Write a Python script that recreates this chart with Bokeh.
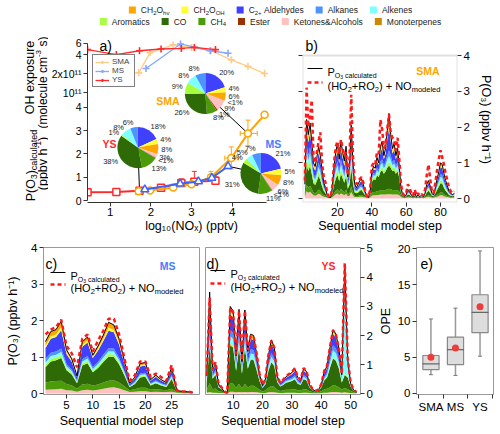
import math
import numpy as np
from bokeh.plotting import figure
from bokeh.models import (Range1d, LinearAxis, LogScale, FixedTicker, Label, BoxAnnotation,
                          Legend, LegendItem, ColumnDataSource)
from bokeh.layouts import column, row
from bokeh.embed import file_html
from bokeh.resources import INLINE
from bokeh.core.properties import value
from bokeh.transform import stack

# ---------------- data ----------------
SPECIES_KEYS = ["hv", "oh", "c2", "alka", "alke", "aro", "co", "ch4", "ester", "ket", "mono"]
SPECIES_NAMES = ["CH2O_hv", "CH2O_OH", "C2+ Aldehydes", "Alkanes", "Alkenes", "Aromatics",
                 "CO", "CH4", "Ester", "Ketones&Alcohols", "Monoterpenes"]
STACK_KEYS = ["ket", "ch4", "co", "aro", "alke", "alka", "c2", "oh", "hv"]

# panel a : P(O3) and OH exposure vs log10(NOx)
SMA_NOX = [1.70, 1.98, 2.55, 3.00, 3.48, 3.98, 4.39, 4.80]
SMA_PO3 = [0.40, 0.43, 0.56, 0.70, 1.00, 1.82, 2.88, 3.68]
SMA_PO3_LO = [0.38, 0.40, 0.50, 0.62, 0.85, 1.35, 2.35, 3.68]
SMA_PO3_HI = [0.42, 0.46, 0.62, 0.80, 1.25, 2.30, 3.45, 3.68]
SMA_NOX_LO = [1.70, 1.98, 2.55, 3.00, 3.40, 3.82, 4.20, 4.80]
SMA_NOX_HI = [1.70, 1.98, 2.55, 3.00, 3.56, 4.15, 4.62, 4.80]
SMA_OH = [2.05e11, 4.3e11, 5.7e11, 5.2e11, 4.6e11, 3.3e11, 2.6e11, 2.0e11]

MS_NOX = [1.85, 2.72, 3.17, 3.50, 3.90]
MS_PO3 = [0.47, 0.72, 0.82, 0.97, 1.47]
MS_OH_NOX = [1.88, 2.73, 3.46, 3.90]
MS_OH = [2.4e11, 5.9e11, 4.6e11, 4.2e11]

YS_NOX = [0.44, 1.15, 1.72, 2.25, 2.75, 3.07, 3.59]
YS_PO3 = [0.35, 0.36, 0.42, 0.55, 0.75, 0.80, 0.85]
YS_PO3_LO = [0.33, 0.34, 0.38, 0.48, 0.62, 0.62, 0.72]
YS_PO3_HI = [0.38, 0.38, 0.45, 0.62, 0.93, 1.25, 1.02]
YS_OH = [4.8e11, 4.0e11, 4.6e11, 4.9e11, 5.0e11, 5.2e11, 4.8e11]

PO3_TICKS = [0, 1, 2, 3, 4]
OH_TICKS = [1e11, 2e11, 4e11, 6e11]
OH_TICK_LABELS = ["10\u00b9\u00b9", "2x10\u00b9\u00b9", "4", "6"]

PIE_KEYS = ["c2", "oh", "hv", "mono", "ket", "ester", "ch4", "co", "aro", "alke", "alka"]
SMA_PIE = [20, 4, 6, 0.5, 9, 1, 8, 26, 9, 8, 8]
SMA_PIE_LAB = ["20%", "4%", "6%", "<1%", "9%", "1%", "8%", "26%", "9%", "8%", "8%"]
MS_PIE = [21, 5, 8, 0, 6, 0.5, 11, 31, 4, 5, 7]
MS_PIE_LAB = ["21%", "5%", "8%", "", "6%", "<1%", "11%", "31%", "4%", "5%", "7%"]
YS_PIE = [18, 4, 8, 0, 3, 0.5, 13, 38, 1, 8, 6]
YS_PIE_LAB = ["18%", "4%", "8%", "", "3%", "<1%", "13%", "38%", "1%", "8%", "6%"]

# panel b : SMA sequential steps
B_STEP = list(range(1, 89))
B_KET = [.04,.20,.16,.19,.14,.09,.08,.10,.13,.11, .07,.05,.04,.02,.01,.01,.04,.08,.12,.14,
         .10,.14,.12,.09,.13,.06,.08,.18,.09,.04, .04,.04,.05,.05,.04,.03,.02,.01,.03,.08,
         .09,.09,.10,.10,.11,.11,.11,.11,.12,.12, .12,.11,.11,.11,.11,.09,.04,.02,.01,.02,
         .03,.03,.02,.01,.02,.01,.02,.01,.02,.01, .02,.04,.05,.04,.02,.02,.04,.05,.07,.09,
         .09,.06,.05,.04,.03,.02,.02,.02]
B_CH4 = [.03,.18,.14,.17,.13,.08,.07,.09,.12,.10, .06,.04,.03,.01,.01,.01,.03,.07,.10,.12,
         .09,.13,.10,.08,.12,.05,.07,.16,.08,.03, .03,.03,.04,.05,.03,.02,.01,.01,.02,.08,
         .09,.09,.10,.10,.12,.13,.12,.13,.14,.15, .14,.13,.13,.12,.13,.10,.03,.01,.01,.01,
         .02,.02,.01,.01,.02,.01,.01,.01,.01,.01, .02,.03,.04,.03,.02,.01,.03,.05,.06,.08,
         .08,.06,.04,.03,.02,.02,.01,.02]
B_CO = [.10,.57,.47,.55,.42,.26,.23,.30,.38,.31, .21,.12,.08,.03,.01,.01,.08,.23,.34,.40,
        .29,.42,.34,.27,.38,.16,.23,.53,.26,.10, .08,.10,.13,.14,.10,.05,.02,.01,.05,.30,
        .36,.34,.44,.40,.52,.55,.46,.52,.60,.65, .60,.52,.55,.46,.52,.38,.08,.03,.02,.03,
        .07,.05,.03,.02,.04,.02,.03,.02,.03,.02, .04,.10,.13,.09,.04,.03,.08,.14,.20,.26,
        .25,.18,.13,.09,.05,.04,.03,.04]
B_ARO = [.04,.20,.16,.19,.14,.09,.08,.10,.13,.11, .07,.04,.03,.01,0,0,.03,.08,.12,.14,
         .10,.14,.12,.09,.13,.05,.08,.18,.09,.04, .03,.04,.05,.05,.04,.02,.01,0,.02,.05,
         .06,.05,.07,.06,.08,.09,.07,.08,.10,.11, .10,.08,.09,.07,.08,.05,.03,.01,0,.01,
         .02,.02,.01,0,.01,0,.01,0,.01,0, .01,.04,.05,.03,.01,.01,.03,.05,.07,.09,
         .08,.06,.05,.03,.02,.01,.01,.01]
B_ALKE = [.03,.18,.14,.17,.13,.08,.07,.09,.12,.10, .06,.04,.02,.01,0,0,.02,.07,.10,.12,
          .09,.13,.10,.08,.12,.05,.07,.16,.08,.03, .02,.03,.04,.04,.03,.02,0,0,.02,.05,
          .06,.06,.08,.07,.10,.11,.08,.09,.13,.16, .12,.09,.10,.08,.09,.06,.02,.01,0,.01,
          .02,.02,.01,0,.01,0,.01,0,.01,0, .01,.03,.04,.03,.01,.01,.02,.04,.06,.08,
          .08,.06,.04,.03,.02,.01,.01,.01]
B_ALKA = [.03,.18,.14,.17,.13,.08,.07,.09,.12,.10, .06,.04,.02,.01,0,0,.02,.07,.10,.12,
          .09,.13,.10,.08,.12,.05,.07,.16,.08,.03, .02,.03,.04,.04,.03,.02,0,0,.02,.05,
          .06,.05,.08,.07,.10,.11,.08,.09,.13,.16, .12,.09,.10,.08,.09,.06,.02,.01,0,.01,
          .02,.02,.01,0,.01,0,.01,0,.01,0, .01,.03,.04,.03,.01,.01,.02,.04,.06,.08,
          .08,.06,.04,.03,.02,.01,.01,.01]
B_C2 = [.08,.44,.36,.42,.32,.20,.18,.23,.29,.24, .16,.09,.06,.01,.01,0,.06,.18,.26,.31,
        .22,.32,.26,.22,.29,.12,.18,.41,.20,.08, .06,.08,.10,.11,.08,.03,.01,0,.03,.09,
        .11,.11,.18,.14,.26,.31,.18,.24,.43,.63, .40,.24,.29,.18,.24,.10,.06,.01,.01,.01,
        .05,.03,.01,.01,.03,.01,.01,.01,.01,.01, .03,.08,.10,.07,.03,.01,.06,.11,.15,.20,
        .19,.14,.10,.07,.03,.03,.01,.03]
B_OH = [.02,.11,.09,.10,.08,.05,.05,.06,.07,.06, .04,.01,.01,0,0,0,.01,.05,.07,.08,
        .05,.08,.07,.06,.07,.03,.05,.10,.05,.02, .01,.02,.02,.03,.02,.01,0,0,.01,.02,
        .03,.03,.04,.03,.06,.07,.04,.06,.10,.14, .08,.06,.07,.04,.06,.03,.01,0,0,0,
        .01,.01,0,0,.01,0,0,0,0,0, .01,.02,.02,.01,.01,0,.01,.03,.04,.05,
        .05,.04,.02,.01,.01,.01,0,.01]
B_HV = [.03,.15,.13,.15,.11,.07,.07,.09,.10,.08, .06,.02,.01,0,0,0,.01,.07,.09,.12,
        .07,.11,.09,.08,.10,.03,.07,.17,.07,.03, .01,.03,.03,.04,.03,0,0,0,0,.03,
        .04,.03,.06,.03,.10,.12,.06,.08,.15,.26, .12,.08,.11,.06,.08,.03,.01,0,0,0,
        .01,0,0,0,0,0,0,0,0,0, 0,.03,.03,.02,0,0,.01,.04,.04,.07,
        .05,.04,.03,.02,0,0,0,0]
B_RED = [0.50,3.10,2.00,2.30,2.75,1.20,1.00,1.30,1.60,1.85, 1.00,0.60,0.45,0.15,0.05,0.04,0.35,1.00,1.45,1.60,
         1.25,1.65,1.40,1.20,1.30,0.65,1.10,2.90,1.20,0.45, 0.40,0.50,0.55,0.60,0.45,0.25,0.08,0.04,0.25,0.90,
         1.00,0.95,1.30,1.25,2.20,1.95,1.40,1.50,1.95,2.35, 1.85,1.70,1.65,1.35,1.70,1.10,0.40,0.15,0.08,0.15,
         0.40,0.30,0.15,0.08,0.25,0.08,0.15,0.08,0.12,0.08, 0.25,0.65,0.95,0.55,0.20,0.15,0.45,0.80,1.10,1.35,
         1.15,0.95,0.70,0.50,0.30,0.20,0.15,0.20]

# panel c : MS sequential steps
C_STEP = list(range(1, 30))
C_KET = [.10,.11,.12,.13,.09,.08,.05,.09,.10,.08, .10,.13,.16,.17,.14,.09,.04,.05,.06,.06, .04,.05,.04,.04,.05,.02,.01,.01,.01]
C_CH4 = [.20,.22,.22,.22,.17,.14,.08,.16,.17,.14, .15,.17,.19,.19,.16,.11,.05,.07,.10,.10, .06,.07,.06,.05,.08,.02,.02,.01,.01]
C_CO = [.42,.55,.57,.62,.38,.30,.15,.52,.56,.36, .45,.56,.66,.64,.50,.30,.08,.14,.28,.30, .12,.16,.12,.09,.27,.02,.02,.02,.01]
C_ARO = [.06,.07,.07,.08,.05,.04,.02,.05,.06,.04, .05,.06,.07,.07,.06,.04,.01,.02,.03,.03, .02,.02,.02,.01,.03,0,0,0,0]
C_ALKE = [.07,.08,.08,.09,.06,.05,.03,.06,.07,.05, .06,.07,.08,.08,.06,.04,.01,.02,.04,.04, .02,.03,.02,.02,.04,0,0,0,0]
C_ALKA = [.10,.09,.09,.09,.06,.05,.03,.06,.07,.05, .06,.07,.08,.08,.06,.04,.02,.03,.04,.04, .02,.03,.02,.02,.04,.01,0,0,0]
C_C2 = [.30,.38,.40,.50,.27,.21,.09,.34,.37,.25, .31,.38,.48,.45,.36,.20,.05,.09,.19,.20, .07,.10,.07,.05,.15,.01,.01,.01,0]
C_OH = [.05,.07,.07,.09,.05,.04,.01,.05,.06,.03, .05,.06,.08,.07,.06,.03,.01,.01,.03,.03, .01,.02,.01,.01,.02,0,0,0,0]
C_HV = [.12,.13,.13,.16,.07,.04,.02,.09,.09,.05, .07,.10,.15,.13,.10,.05,.01,.02,.05,.05, .02,.02,.02,.01,.04,0,0,0,0]
C_RED = [1.62,1.75,1.82,2.02,1.30,1.10,0.72,1.50,1.62,1.15, 1.45,1.72,2.05,2.05,1.62,0.97,0.35,0.50,0.88,0.88,
         0.45,0.55,0.45,0.35,0.78,0.08,0.06,0.05,0.03]

# panel d : YS sequential steps
D_STEP = list(range(1, 53))
D_KET = [.03,.05,.03,.03,.02,.02,.01,.01,.06,.06, .04,.05,.04,.05,.04,.05,.05,.04,.03,.02,
         .02,.04,.05,.04,.03,.02,.02,.03,.03,.03, .03,.02,.02,.03,.03,.02,.01,.01,.01,.02,
         .03,.03,.04,.05,.05,.04,.03,.04,.03,.02, .01,.01]
D_CH4 = [.10,.30,.12,.14,.06,.04,.02,.01,.30,.28, .16,.28,.14,.28,.17,.22,.22,.16,.10,.05,
         .08,.16,.21,.19,.10,.07,.08,.10,.10,.11, .12,.09,.08,.12,.11,.06,.04,.02,.03,.06,
         .11,.13,.18,.24,.22,.18,.10,.15,.12,.07, .03,.01]
D_CO = [.27,1.30,.36,.48,.14,.09,.03,0,1.30,1.25, .58,1.25,.50,1.24,.64,.90,.88,.60,.29,.12,
        .22,.58,.82,.72,.27,.15,.19,.24,.27,.29, .34,.23,.19,.35,.31,.13,.06,.03,.05,.13,
        .31,.40,.68,.92,.86,.64,.25,.45,.40,.15, .05,.02]
D_ARO = [.01,.06,.01,.02,0,0,0,0,.06,.06, .03,.06,.02,.06,.03,.04,.04,.03,.01,0,
         .01,.03,.04,.03,.01,.01,.01,.01,.01,.01, .02,.01,.01,.02,.01,0,0,0,0,0,
         .01,.02,.03,.04,.04,.03,.01,.05,.02,.01, 0,0]
D_ALKE = [.04,.30,.06,.08,.03,.02,0,0,.25,.23, .10,.25,.09,.25,.12,.17,.16,.11,.05,.02,
          .04,.10,.15,.13,.04,.02,.03,.04,.05,.05, .06,.04,.03,.06,.05,.02,.01,.01,.01,.02,
          .05,.08,.16,.24,.22,.18,.09,3.10,.40,.04, .01,0]
D_ALKA = [.04,.35,.05,.07,.02,.01,0,0,.22,.21, .09,.22,.07,.22,.10,.15,.14,.09,.04,.02,
          .03,.09,.13,.11,.04,.02,.03,.04,.04,.05, .06,.04,.03,.06,.05,.02,.01,0,.01,.02,
          .05,.07,.12,.17,.16,.12,.05,.25,.08,.02, .01,0]
D_C2 = [.08,.80,.12,.16,.04,.02,0,0,.55,.52, .22,.52,.18,.52,.25,.36,.35,.23,.09,.04,
        .07,.22,.32,.27,.08,.04,.06,.08,.10,.12, .15,.08,.06,.15,.13,.03,.02,.01,.01,.03,
        .13,.16,.28,.40,.37,.27,.09,.30,.11,.03, .01,0]
D_OH = [.01,.12,.02,.03,.01,0,0,0,.10,.09, .03,.10,.02,.10,.04,.06,.06,.04,.02,0,
        .01,.03,.05,.04,.01,.01,.01,.02,.02,.02, .03,.02,.01,.03,.02,.01,0,0,0,.01,
        .02,.02,.04,.05,.05,.03,.01,.04,.01,0, 0,0]
D_HV = [.02,.22,.03,.04,.01,0,0,0,.16,.15, .05,.17,.04,.16,.06,.10,.10,.05,.02,.01,
        .02,.05,.08,.07,.02,.01,.02,.02,.03,.04, .04,.02,.02,.05,.04,.01,0,0,0,.01,
        .04,.04,.07,.09,.08,.06,.02,.07,.03,.01, 0,0]
D_RED = [0.62,3.30,0.82,1.08,0.35,0.22,0.07,0.02,2.95,2.80, 1.35,2.85,1.15,2.85,1.50,2.00,1.95,1.38,0.68,0.30,
         0.52,1.32,1.82,1.58,0.62,0.37,0.47,0.60,0.67,0.74, 0.87,0.57,0.47,0.88,0.77,0.32,0.16,0.09,0.13,0.32,
         0.77,0.97,1.62,2.18,2.02,1.55,0.67,4.50,1.22,0.37, 0.13,0.05]

# panel e : OPE box plots
OPE_SITES = ["SMA", "MS", "YS"]
OPE_POS = [1, 2, 3]
OPE_LO = [2.6, 2.5, 5.15]
OPE_Q1 = [3.3, 4.0, 8.4]
OPE_MED = [4.1, 6.05, 11.2]
OPE_Q3 = [5.25, 7.8, 13.65]
OPE_HI = [10.3, 11.8, 19.7]
OPE_MEAN = [5.0, 6.3, 12.0]

# ---------------- styles ----------------
FONT = "Liberation Sans"
COL = {"hv": "#FFA500", "oh": "#FFFF33", "c2": "#4040FF", "alka": "#4D94FF", "alke": "#80FFFF",
       "aro": "#A8FF40", "co": "#2E6A05", "ch4": "#4C9C0A", "ester": "#993300", "ket": "#FFC0C0",
       "mono": "#CC8800"}
SMA_C, MS_C, YS_C = "#FFA500", "#3B63FF", "#FF2A2A"
SMA_C2, MS_C2 = "#FFCC88", "#86A8FF"
PO3_LABEL = "P(O\u2083) (ppbv h\u207b\u00b9)"

AW = {' ': .278, '%': .889, '&': .667, '(': .333, ')': .333, '+': .584, '-': .333, '<': .584, '.': .278,
      'A': .667, 'C': .722, 'E': .667, 'H': .722, 'K': .667, 'M': .833, 'N': .722, 'O': .778, 'P': .667,
      'R': .722, 'S': .667, 'Y': .667,
      'a': .556, 'b': .556, 'c': .5, 'd': .556, 'e': .556, 'g': .556, 'h': .556, 'i': .222, 'k': .5,
      'l': .222, 'm': .833, 'n': .556, 'o': .556, 'p': .556, 'q': .556, 'r': .333, 's': .5, 't': .278,
      'u': .556, 'v': .5, 'x': .5, 'y': .5}


def tw(s, size):
    return sum(AW.get(c, 0.556) for c in s) * size


def rich(p, x, y, parts, angle=0.0, units="screen", align="left", base="alphabetic", color="black"):
    total = sum(tw(t, s) for t, s, _ in parts)
    adv = {"left": 0.0, "center": -total / 2, "right": -total}[align]
    ux, uy = math.cos(angle), math.sin(angle)
    dx, dy = math.sin(angle), -math.cos(angle)
    for t, s, off in parts:
        lead = len(t) - len(t.lstrip(" "))
        if lead:
            adv += tw(" " * lead, s)
            t = t.lstrip(" ")
        p.add_layout(Label(x=x + adv * ux + off * dx, y=y + adv * uy + off * dy, x_units=units, y_units=units,
                           text=t, angle=angle, text_font=FONT, text_font_size=f"{s}px",
                           text_align="left", text_baseline=base, text_color=color))
        adv += tw(t, s)


def plain(p, x, y, text, size="14px", color="black", bold=False, align="left"):
    p.add_layout(Label(x=x, y=y, x_units="screen", y_units="screen", text=text, text_font=FONT,
                       text_font_size=size, text_font_style="bold" if bold else "normal",
                       text_color=color, text_align=align, text_baseline="alphabetic"))


def style(ax, size="11.5px", line="#333333", title=None, standoff=3):
    ax.major_label_text_font = FONT
    ax.major_label_text_font_size = size
    ax.major_label_text_color = "black"
    ax.major_tick_in = 0
    ax.major_tick_out = 4
    ax.major_tick_line_color = "#333333"
    ax.minor_tick_line_color = None
    ax.major_label_standoff = 2
    ax.axis_line_color = line
    if title is not None:
        ax.axis_label = title
        ax.axis_label_text_font = FONT
        ax.axis_label_text_font_size = "12.5px"
        ax.axis_label_text_font_style = "normal"
        ax.axis_label_text_color = "black"
        ax.axis_label_standoff = standoff


# frame geometry in page pixels (plots in one row share their frame top / bottom)
R2_TOP, R2_T, R2_B, R2_BOT = 28, 36, 202, 238     # row 2: figure top, frame top, frame bottom, figure bottom
GA = dict(fl=85, fb=R2_B, fw=210, fh=R2_B - R2_T, xr=(1 - 23 / 41, 1 + 187 / 41),
          yr=((200 - R2_B) / 23.3, (200 - R2_T) / 23.3))
OH_LOG = (11 - (R2_B - 92) / 63, 11 + (92 - R2_T) / 63)
GB = dict(fl=302, fb=R2_B, fw=155, fh=R2_B - R2_T, xr=(-0.38, 89.9),
          yr=((198 - R2_B) / 35.75, (198 - R2_T) / 35.75))
GC = dict(fl=43, fb=394, fw=156, fh=147, xr=(0.62, 30.3), yr=(-0.027, 4.0))
GD = dict(fl=205, fb=394, fw=157, fh=147, xr=(0.59, 53.36), yr=(-0.034, 5.034))
GE = dict(fl=413, fb=394, fw=80, fh=147, xr=(0.412, 3.549), yr=(-0.14, 20.18))


def px2d(g, px, py):
    x = g["xr"][0] + (px - g["fl"]) * (g["xr"][1] - g["xr"][0]) / g["fw"]
    y = g["yr"][0] + (g["fb"] - py) * (g["yr"][1] - g["yr"][0]) / g["fh"]
    return x, y


def mkfig(g, w, h, ml, mr, mt, mb, **kw):
    p = figure(width=w, height=h, x_range=Range1d(*g["xr"]), y_range=Range1d(*g["yr"]),
               min_border_left=ml, min_border_right=mr, min_border_top=mt, min_border_bottom=mb,
               output_backend="svg", toolbar_location=None, **kw)
    p.grid.visible = False
    p.outline_line_color = "#999999"
    p.background_fill_color = "white"
    p.border_fill_color = "white"
    return p


def stacked(p, g, steps, layers, red, lx, ly_black, ly_red):
    data = {"x": steps, "red": red}
    for k, arr in zip(STACK_KEYS, layers):
        data[k] = arr
    src = ColumnDataSource(data)
    p.varea_stack(stackers=STACK_KEYS, x="x", fill_color=[COL[k] for k in STACK_KEYS], source=src)
    p.line(x="x", y=stack(*STACK_KEYS), source=src, line_color="black", line_width=1)
    p.line(x="x", y="red", source=src, line_color="#FF1A1A", line_width=2.5, line_dash="4 3")
    # in-panel legend
    x0, yb = px2d(g, lx, ly_black)
    x1, yr_ = px2d(g, lx + 15, ly_red)
    p.line([x0, x1], [yb, yb], line_color="black", line_width=1)
    p.line([x0, x1], [yr_, yr_], line_color="#FF1A1A", line_width=2.5, line_dash="4 3")
    sx = lx + 20 - g["fl"]
    rich(p, sx, g["fb"] - ly_black - 3.5,
         [("P", 11, 0), ("O", 7, 3), ("3", 5, 4.5), (" calculated", 7, 3)])
    rich(p, sx, g["fb"] - ly_red - 3.5,
         [("(HO", 11, 0), ("2", 7.5, 3), ("+RO", 11, 0), ("2", 7.5, 3), (") + NO", 11, 0), ("modeled", 7.5, 3)])


# ---------------- top legend ----------------
LEG_PARTS = {
    "hv": [("CH", 8.5, 0), ("2", 6, 2.5), ("O", 8.5, 0), ("hv", 6, 2.5)],
    "oh": [("CH", 8.5, 0), ("2", 6, 2.5), ("O", 8.5, 0), ("OH", 6, 2.5)],
    "c2": [("C", 8.5, 0), ("2+", 6, 2.5), (" Aldehydes", 8.5, 0)],
    "alka": [("Alkanes", 8.5, 0)], "alke": [("Alkenes", 8.5, 0)], "aro": [("Aromatics", 8.5, 0)],
    "co": [("CO", 8.5, 0)], "ch4": [("CH", 8.5, 0), ("4", 6, 2.5)], "ester": [("Ester", 8.5, 0)],
    "ket": [("Ketones&Alcohols", 8.5, 0)], "mono": [("Monoterpenes", 8.5, 0)],
}
lg = figure(width=500, height=R2_TOP, x_range=Range1d(0, 500), y_range=Range1d(0, R2_TOP), output_backend="svg",
            toolbar_location=None, min_border=0, x_axis_location=None, y_axis_location=None)
lg.grid.visible = False
lg.outline_line_color = None
sq_x, sq_y, sq_c = [], [], []
for keys, yy in [(SPECIES_KEYS[:5], 18.5), (SPECIES_KEYS[5:], 7)]:
    widths = [7 + 5 + sum(tw(t, s) for t, s, _ in LEG_PARTS[k]) for k in keys]
    total = sum(widths) + 12 * (len(keys) - 1)
    x = 270 - total / 2
    for k, w in zip(keys, widths):
        sq_x.append(x + 3.5)
        sq_y.append(yy)
        sq_c.append(COL[k])
        rich(lg, x + 12, yy, LEG_PARTS[k], units="data", base="middle", color="#222222")
        x += w + 12
lg.rect(x=sq_x, y=sq_y, width=7, height=7, fill_color=sq_c, line_color=None)

# ---------------- panel a : title strip ----------------
sa = figure(width=48, height=R2_BOT - R2_TOP, x_range=Range1d(0, 48), y_range=Range1d(R2_BOT - R2_B, R2_BOT - R2_T),
            min_border_left=0, min_border_right=0, min_border_top=R2_T - R2_TOP, min_border_bottom=R2_BOT - R2_B,
            output_backend="svg", toolbar_location=None, x_axis_location=None, y_axis_location=None)
sa.grid.visible = False
sa.outline_line_color = None
# strip data units are page pixels: x = page x, y = 238 - page y
rich(sa, 29, R2_BOT - 77, [("OH exposure", 12.5, 0)], angle=math.pi / 2, units="data", align="center")
rich(sa, 42, R2_BOT - 82, [("(molecule cm", 12, 0), ("-3", 8, -4.5), (" s)", 12, 0)],
     angle=math.pi / 2, units="data", align="center")
rich(sa, 30, R2_BOT - 165, [("P(O", 12.5, 0), ("3", 8.5, 3), (")", 12.5, 0), ("calculated", 9, 3)],
     angle=math.pi / 2, units="data", align="center")
rich(sa, 42, R2_BOT - 163, [("(ppbv h", 12.5, 0), ("-1", 8.5, -4.5), (")", 12.5, 0)],
     angle=math.pi / 2, units="data", align="center")

# ---------------- panel a : plot ----------------
pa = mkfig(GA, 247, R2_BOT - R2_TOP, 37, 0, R2_T - R2_TOP, R2_BOT - R2_B)
pa.outline_line_color = None
pa.extra_y_ranges = {"oh": Range1d(10 ** OH_LOG[0], 10 ** OH_LOG[1])}
pa.extra_y_scales = {"oh": LogScale()}


def oh_to_p(v):
    # position of an OH-exposure value on the shared left axis (same pixel as the log scale)
    f = (math.log10(v) - OH_LOG[0]) / (OH_LOG[1] - OH_LOG[0])
    return GA["yr"][0] + f * (GA["yr"][1] - GA["yr"][0])


left_ticks = PO3_TICKS + [oh_to_p(v) for v in OH_TICKS]
left_labels = [str(t) for t in PO3_TICKS] + OH_TICK_LABELS
style(pa.yaxis[0], size="10.5px")
pa.yaxis[0].ticker = FixedTicker(ticks=left_ticks)
pa.yaxis[0].major_label_overrides = dict(zip(left_ticks, left_labels))
pa.yaxis[0].bounds = (0, oh_to_p(6e11))
style(pa.xaxis[0], title="log\u2081\u2080(NO\u2093) (pptv)", standoff=0)
pa.xaxis[0].major_label_standoff = 1
pa.xaxis[0].ticker = FixedTicker(ticks=[1, 2, 3, 4])
pa.xaxis[0].bounds = (GA["xr"][0], 4.85)

# OH exposure (top)
leg_items = []
for name, nox, oh, c in [("SMA", SMA_NOX, SMA_OH, SMA_C2), ("MS", MS_OH_NOX, MS_OH, MS_C2), ("YS", YS_NOX, YS_OH, YS_C)]:
    r1 = pa.line(nox, oh, y_range_name="oh", line_color=c, line_width=1.3)
    r2 = pa.scatter(nox, oh, y_range_name="oh", marker="cross", size=7, line_color=c, line_width=1.6)
    leg_items.append(LegendItem(label=name, renderers=[r1, r2]))
leg_a = Legend(items=leg_items, location=(5, R2_B - 87), label_text_font=FONT, label_text_font_size="8px",
               glyph_width=14, glyph_height=8, label_height=8, label_standoff=3, spacing=0, padding=2,
               margin=0, border_line_color="black", border_line_width=0.8, background_fill_color="white")
pa.add_layout(leg_a)

# leader lines from pies
SMA_PIE_C, YS_PIE_C, MS_PIE_C = (3.34, 4.59), (1.68, 2.27), (4.71, 1.16)
pa.segment(x0=[SMA_PIE_C[0], YS_PIE_C[0], MS_PIE_C[0]], y0=[SMA_PIE_C[1], YS_PIE_C[1], MS_PIE_C[1]],
           x1=[SMA_NOX[6], YS_NOX[2], MS_NOX[4]], y1=[SMA_PO3[6], YS_PO3[2], MS_PO3[4]],
           line_color="black", line_width=1)

# error bars
pa.segment(x0=YS_NOX, y0=YS_PO3_LO, x1=YS_NOX, y1=YS_PO3_HI, line_color=YS_C, line_width=1)
pa.scatter(YS_NOX, YS_PO3_HI, marker="dash", size=5, line_color=YS_C)
pa.segment(x0=SMA_NOX, y0=SMA_PO3_LO, x1=SMA_NOX, y1=SMA_PO3_HI, line_color=SMA_C, line_width=1)
pa.scatter(SMA_NOX, SMA_PO3_HI, marker="dash", size=5, line_color=SMA_C)
pa.scatter(SMA_NOX, SMA_PO3_LO, marker="dash", size=5, line_color=SMA_C)
pa.segment(x0=SMA_NOX_LO, y0=SMA_PO3, x1=SMA_NOX_HI, y1=SMA_PO3, line_color=SMA_C, line_width=1)
pa.scatter(SMA_NOX_LO, SMA_PO3, marker="dash", angle=math.pi / 2, size=5, line_color=SMA_C)
pa.scatter(SMA_NOX_HI, SMA_PO3, marker="dash", angle=math.pi / 2, size=5, line_color=SMA_C)

# P(O3) (bottom)
pa.line(YS_NOX, YS_PO3, line_color=YS_C, line_width=2)
pa.scatter(YS_NOX, YS_PO3, marker="square", size=7, line_color=YS_C, fill_color="white", line_width=1.5)
pa.line(SMA_NOX, SMA_PO3, line_color=SMA_C, line_width=2)
pa.scatter(SMA_NOX, SMA_PO3, marker="circle", size=7, line_color=SMA_C, fill_color="white", line_width=1.5)
pa.line(MS_NOX, MS_PO3, line_color=MS_C, line_width=2)
pa.scatter(MS_NOX, MS_PO3, marker="triangle", size=8, line_color=MS_C, fill_color="white", line_width=1.5)


def pie(p, cx, cy, vals, labels, r=20.5):
    v = np.array(vals, dtype=float)
    frac = v / v.sum()
    c1 = np.cumsum(frac)
    c0 = c1 - frac
    keep = v > 0
    start = np.pi / 2 - 2 * np.pi * c1
    end = np.pi / 2 - 2 * np.pi * c0
    cols = [COL[k] for k, kk in zip(PIE_KEYS, keep) if kk]
    p.wedge(x=cx, y=cy, radius=r, radius_units="screen", start_angle=start[keep], end_angle=end[keep],
            fill_color=cols, line_color=None)
    mid = (np.pi / 2 - np.pi * (c0 + c1))[keep]
    labs = [l for l, kk in zip(labels, keep) if kk]
    half = np.array([tw(l, 7.5) / 2 for l in labs])
    xo = (r + 3) * np.cos(mid) + half * np.sign(np.round(np.cos(mid), 2))
    yo = -(r + 5) * np.sin(mid)
    p.text(x=cx, y=cy, text=labs, x_offset=xo, y_offset=yo,
           text_font=value(FONT), text_font_size="7.5px", text_align="center", text_baseline="middle",
           text_color="#222222")


pie(pa, SMA_PIE_C[0], SMA_PIE_C[1], SMA_PIE, SMA_PIE_LAB)
pie(pa, YS_PIE_C[0], YS_PIE_C[1], YS_PIE, YS_PIE_LAB)
pie(pa, MS_PIE_C[0], MS_PIE_C[1], MS_PIE, MS_PIE_LAB)

plain(pa, 177 - 85, R2_B - 100, "SMA", size="10.5px", color=SMA_C, bold=True, align="right")
plain(pa, 100 - 85, R2_B - 143, "YS", size="10.5px", color=YS_C, bold=True)
plain(pa, 263 - 85, R2_B - 143, "MS", size="10.5px", color="#4A7BFF", bold=True)
plain(pa, 97 - 85, R2_B - 45, "a)")

# ---------------- panel b ----------------
pb = mkfig(GB, 205, R2_BOT - R2_TOP, 7, 43, R2_T - R2_TOP, R2_BOT - R2_B, y_axis_location="right")
pb.outline_line_color = None
pb.add_layout(BoxAnnotation(top=4.0, fill_alpha=0, line_color="#999999", line_width=2))
style(pb.xaxis[0], line=None, title="Sequential model step", standoff=0)
pb.xaxis[0].major_label_standoff = 1
pb.xaxis[0].ticker = FixedTicker(ticks=[20, 40, 60, 80])
style(pb.yaxis[0], line=None, title=PO3_LABEL, standoff=6)
pb.yaxis[0].ticker = FixedTicker(ticks=[0, 1, 2, 3, 4])
lax = LinearAxis(ticker=FixedTicker(ticks=[0, 1, 2, 3, 4]), major_label_overrides={i: "" for i in range(5)})
style(lax, line=None)
lax.major_label_standoff = 0
pb.add_layout(lax, "left")
stacked(pb, GB, B_STEP, [B_KET, B_CH4, B_CO, B_ARO, B_ALKE, B_ALKA, B_C2, B_OH, B_HV], B_RED, 307, 68, 82)
plain(pb, 137, R2_B - 70, "SMA", size="10.5px", color=SMA_C, bold=True, align="right")
plain(pb, 3, R2_B - 45, "b)")

# ---------------- panel c ----------------
pc = mkfig(GC, 202, 196, 43, 3, 9, 40)
style(pc.xaxis[0], line=None, title="Sequential model step", standoff=2)
pc.xaxis[0].ticker = FixedTicker(ticks=[5, 10, 15, 20, 25])
style(pc.yaxis[0], line=None, title=PO3_LABEL, standoff=8)
pc.yaxis[0].ticker = FixedTicker(ticks=[0, 1, 2, 3, 4])
stacked(pc, GC, C_STEP, [C_KET, C_CH4, C_CO, C_ARO, C_ALKE, C_ALKA, C_C2, C_OH, C_HV], C_RED, 50, 272, 284)
plain(pc, 2, 131, "c)")
plain(pc, 132, 129, "MS", size="10.5px", color="#4A7BFF", bold=True, align="right")

# ---------------- panel d ----------------
pd = mkfig(GD, 173, 196, 3, 13, 9, 40, y_axis_location="right")
style(pd.xaxis[0], line=None, title="Sequential model step", standoff=2)
pd.xaxis[0].ticker = FixedTicker(ticks=[10, 20, 30, 40, 50])
style(pd.yaxis[0], line=None)
pd.yaxis[0].ticker = FixedTicker(ticks=[0, 1, 2, 3, 4, 5])
stacked(pd, GD, D_STEP, [D_KET, D_CH4, D_CO, D_ARO, D_ALKE, D_ALKA, D_C2, D_OH, D_HV], D_RED, 210, 270, 283)
plain(pd, 1, 131, "d)")
plain(pd, 130, 129, "YS", size="10.5px", color=YS_C, bold=True, align="right")

# ---------------- panel e ----------------
pe = mkfig(GE, 125, 196, 38, 7, 9, 40)
style(pe.xaxis[0], line=None)
pe.xaxis[0].ticker = FixedTicker(ticks=OPE_POS, minor_ticks=[0.5, 1.5, 2.5, 3.5])
pe.xaxis[0].major_label_overrides = dict(zip(OPE_POS, OPE_SITES))
pe.xaxis[0].major_tick_line_color = None
pe.xaxis[0].minor_tick_line_color = "#333333"
pe.xaxis[0].minor_tick_in = 0
pe.xaxis[0].minor_tick_out = 4
style(pe.yaxis[0], line=None, title="OPE", standoff=2)
pe.yaxis[0].ticker = FixedTicker(ticks=[0, 5, 10, 15, 20])
pe.segment(x0=OPE_POS, y0=OPE_LO, x1=OPE_POS, y1=OPE_Q1, line_color="#999999", line_width=1.5)
pe.segment(x0=OPE_POS, y0=OPE_Q3, x1=OPE_POS, y1=OPE_HI, line_color="#999999", line_width=1.5)
pe.scatter(OPE_POS, OPE_LO, marker="dash", size=4, line_color="#777777")
pe.scatter(OPE_POS, OPE_HI, marker="dash", size=4, line_color="#777777")
pe.vbar(x=OPE_POS, bottom=OPE_Q1, top=OPE_Q3, width=0.66, fill_color="#DDDDDD", line_color="#888888", line_width=1.2)
pe.scatter(OPE_POS, OPE_MED, marker="dash", size=17, line_color="#666666", line_width=1.2)
pe.scatter(OPE_POS, OPE_MEAN, marker="circle", size=7, fill_color="#EE3B3B", line_color=None)
plain(pe, 4, 131, "e)")

layout = column(lg, row(sa, pa, pb), row(pc, pd, pe))
open("out.html", "w").write(file_html(layout, INLINE))
